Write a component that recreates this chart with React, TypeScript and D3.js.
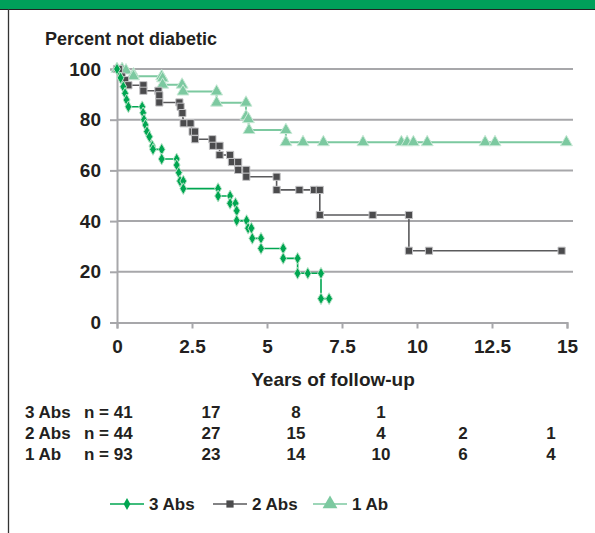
import { useEffect, useRef } from 'react';
import * as d3 from 'd3';

// Kaplan-Meier step vertices [years, percent not diabetic]
const abs3: [number, number][] = [
  [0, 100], [0.12, 96.5], [0.21, 93], [0.27, 90.4], [0.32, 87.8], [0.38, 85.1],
  [0.84, 85.1], [0.87, 82.7], [0.9, 80], [0.95, 77.9], [1.0, 75.3], [1.08, 73.3],
  [1.18, 69.6], [1.2, 68.3], [1.49, 68.3], [1.49, 64.5], [1.99, 64.5], [1.99, 62.1],
  [2.06, 59.1], [2.1, 55.8], [2.21, 55.8], [2.21, 52.8], [3.37, 52.8], [3.37, 49.9],
  [3.77, 49.9], [3.77, 47], [3.95, 47], [3.99, 44.1], [3.99, 40.2], [4.32, 40.2],
  [4.37, 37.2], [4.48, 37.2], [4.51, 33.2], [4.8, 33.2], [4.8, 29.2], [5.54, 29.2],
  [5.54, 25.3], [6.02, 25.3], [6.02, 19.4], [6.36, 19.4], [6.8, 19.4], [6.8, 9.4],
  [7.07, 9.4],
];

const abs2: [number, number][] = [
  [0, 100], [0.06, 100], [0.16, 97], [0.27, 95.6], [0.38, 93.6], [0.88, 93.6],
  [0.88, 91.4], [1.38, 91.4], [1.41, 89.6], [1.41, 86.8], [2.08, 86.8], [2.12, 85.1],
  [2.18, 82.6], [2.22, 78.6], [2.45, 78.6], [2.52, 75.3], [2.6, 75.3], [2.6, 72.3],
  [3.18, 72.3], [3.2, 69.7], [3.42, 69.7], [3.42, 66.1], [3.77, 66.1], [3.83, 63.3],
  [4.04, 63.3], [4.04, 60.2], [4.31, 60.2], [4.31, 57.5], [5.32, 57.5], [5.32, 52.3],
  [6.08, 52.3], [6.57, 52.3], [6.76, 52.3], [6.76, 42.4], [8.52, 42.4], [9.73, 42.4],
  [9.73, 28.3], [10.4, 28.3], [14.82, 28.3],
];

const ab1: [number, number][] = [
  [0, 100], [0.17, 100], [0.3, 99.4], [0.55, 97.9], [0.55, 97.1], [1.49, 97.1],
  [1.52, 96.3], [1.52, 93.8], [2.17, 93.8], [2.2, 91.1], [3.32, 91.1], [3.32, 86.7],
  [4.3, 86.7], [4.3, 81.3], [4.38, 80.2], [4.4, 75.9], [5.63, 75.9], [5.63, 71.1],
  [6.2, 71.1], [6.88, 71.1], [8.2, 71.1], [9.48, 71.1], [9.67, 71.1], [9.88, 71.1],
  [10.34, 71.1], [12.27, 71.1], [12.6, 71.1], [14.98, 71.1],
];

const xTicks = [0, 2.5, 5, 7.5, 10, 12.5, 15];
const yTicks = [0, 20, 40, 60, 80, 100];

// numbers at risk
const riskLabels = ['3 Abs', '2 Abs', '1 Ab'];
const riskN = ['n = 41', 'n = 44', 'n = 93'];
const riskCounts = [
  ['17', '8', '1', '', ''],
  ['27', '15', '4', '2', '1'],
  ['23', '14', '10', '6', '4'],
];

const FONT = '"Liberation Sans", Arial, sans-serif';
const INK = '#231f20';
const GREEN = '#00a651';
const GRAY = '#4b4b4d';
const LIGHT = '#7cc9a0';

function App() {
  const svgRef = useRef<SVGSVGElement>(null);

  useEffect(() => {
    const svg = d3.select(svgRef.current);
    svg.selectAll('*').remove();

    const x = d3.scaleLinear().domain([0, 15]).range([117, 567]);
    const y = d3.scaleLinear().domain([0, 100]).range([322.5, 69]);

    // frame
    svg.append('rect').attr('x', 0).attr('y', 0).attr('width', 595).attr('height', 9).attr('fill', '#00a05a');
    svg.append('line').attr('x1', 0).attr('x2', 595).attr('y1', 9.5).attr('y2', 9.5).attr('stroke', '#222').attr('stroke-width', 1.2);
    svg.append('line').attr('x1', 8.5).attr('x2', 8.5).attr('y1', 9).attr('y2', 533).attr('stroke', '#333').attr('stroke-width', 1.3);

    svg.append('text')
      .attr('x', 45).attr('y', 45)
      .attr('font-family', FONT).attr('font-size', 18).attr('font-weight', 'bold')
      .attr('fill', INK)
      .text('Percent not diabetic');

    // grid
    svg.selectAll('.grid')
      .data(yTicks.filter(d => d > 0))
      .join('line')
      .attr('x1', 117).attr('x2', 573)
      .attr('y1', d => y(d)).attr('y2', d => y(d))
      .attr('stroke', '#a7a7aa').attr('stroke-width', 2);

    const yAxis = svg.append('g')
      .attr('transform', `translate(${x(0)},0)`)
      .call(d3.axisLeft(y).tickValues(yTicks).tickSize(7).tickPadding(9).tickFormat(d3.format('d')));
    yAxis.select('.domain').attr('stroke', '#a7a7aa').attr('stroke-width', 2);
    yAxis.selectAll('.tick line').attr('stroke', '#a7a7aa').attr('stroke-width', 2);
    yAxis.selectAll('text')
      .attr('font-family', FONT).attr('font-size', 19).attr('font-weight', 'bold').attr('fill', INK);

    const xAxis = svg.append('g')
      .attr('transform', `translate(0,${y(0)})`)
      .call(d3.axisBottom(x).tickValues(xTicks).tickSize(6).tickPadding(11).tickFormat(d => String(d)));
    xAxis.select('.domain').attr('stroke', '#a7a7aa').attr('stroke-width', 2);
    xAxis.selectAll('.tick line').attr('stroke', '#a7a7aa').attr('stroke-width', 2);
    xAxis.selectAll('text')
      .attr('font-family', FONT).attr('font-size', 19).attr('font-weight', 'bold').attr('fill', INK);

    svg.append('text')
      .attr('x', 333).attr('y', 386)
      .attr('text-anchor', 'middle')
      .attr('font-family', FONT).attr('font-size', 19).attr('font-weight', 'bold').attr('fill', INK)
      .text('Years of follow-up');

    const line = d3.line<[number, number]>().x(d => x(d[0])).y(d => y(d[1]));

    const diamond = d3.symbol().type(d3.symbolDiamond).size(40);
    const square = d3.symbol().type(d3.symbolSquare).size(52);
    const triangle = d3.symbol().type(d3.symbolTriangle).size(62);

    const series = [
      { data: ab1, color: LIGHT, width: 2, sym: triangle, fill: LIGHT, halo: '#c9e9d6' },
      { data: abs2, color: '#5a5a5c', width: 1.6, sym: square, fill: GRAY, halo: '#c4c4c6' },
      { data: abs3, color: GREEN, width: 1.6, sym: diamond, fill: GREEN, halo: '#b5e2c6' },
    ];

    series.forEach(s => {
      svg.append('path')
        .datum(s.data)
        .attr('d', line)
        .attr('fill', 'none')
        .attr('stroke', s.color)
        .attr('stroke-width', s.width);
      svg.append('g')
        .selectAll('path')
        .data(s.data)
        .join('path')
        .attr('transform', d => `translate(${x(d[0])},${y(d[1])})`)
        .attr('d', s.sym())
        .attr('fill', s.fill)
        .attr('stroke', s.halo)
        .attr('stroke-width', 1);
    });

    // numbers at risk table
    const rowY = [418, 439, 460];
    const colX = [211, 296, 381, 463, 551];
    riskLabels.forEach((lab, i) => {
      const g = svg.append('g')
        .attr('font-family', FONT).attr('font-size', 17).attr('font-weight', 'bold').attr('fill', INK);
      g.append('text').attr('x', 25).attr('y', rowY[i]).text(lab);
      g.append('text').attr('x', 84).attr('y', rowY[i]).text(riskN[i]);
      g.selectAll('.cnt')
        .data(riskCounts[i])
        .join('text')
        .attr('x', (d, j) => colX[j])
        .attr('y', rowY[i])
        .attr('text-anchor', 'middle')
        .text(d => d);
    });

    // legend
    const legend = [
      { label: '3 Abs', color: GREEN, sym: diamond, fill: GREEN, x: 110 },
      { label: '2 Abs', color: '#5a5a5c', sym: square, fill: GRAY, x: 213 },
      { label: '1 Ab', color: LIGHT, sym: d3.symbol().type(d3.symbolTriangle).size(95), fill: LIGHT, x: 313 },
    ];
    legend.forEach(l => {
      const g = svg.append('g').attr('transform', `translate(${l.x},504)`);
      g.append('line').attr('x1', 0).attr('x2', 34).attr('stroke', l.color).attr('stroke-width', 1.6);
      g.append('path').attr('transform', 'translate(17,0)').attr('d', l.sym()).attr('fill', l.fill);
      g.append('text')
        .attr('x', 39).attr('y', 6)
        .attr('font-family', FONT).attr('font-size', 17).attr('font-weight', 'bold').attr('fill', INK)
        .text(l.label);
    });
  }, []);

  return (
    <svg
      ref={svgRef}
      width={595}
      height={533}
      style={{ position: 'absolute', left: 0, top: 0, background: '#fff' }}
    />
  );
}

export default App;
